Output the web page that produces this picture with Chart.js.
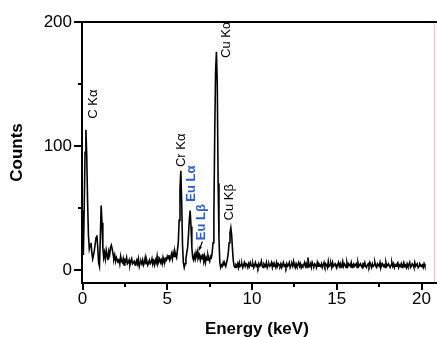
<!DOCTYPE html>
<html>
<head>
<meta charset="utf-8">
<title>EDX spectrum</title>
<script src="https://cdn.jsdelivr.net/npm/chart.js@4/dist/chart.umd.min.js"></script>
<style>
  html, body { margin: 0; padding: 0; background: #fff; }
  #wrap { width: 437px; height: 337px; }
</style>
</head>
<body>
<div id="wrap"><canvas id="mycanvas"></canvas></div>
<script>
// ---- data ----
// spectrum channels: first channel energy and channel width, keV
var channelStart = 0.0;
var channelWidth = 0.05;

// counts per channel, one row = 1 keV (20 channels)
var counts = [
  48,                                                                                   // 0.00
  12, 50, 95, 113, 92, 55, 28, 17, 20, 22, 14, 9, 12, 16, 21, 26, 28, 18, 6, 3,        // 0.05-1.00
  25, 52, 38, 18, 10, 14, 9, 16, 12, 8, 15, 12, 18, 20, 17, 13, 9, 12, 7, 10,          // 1.05-2.00
  8, 6, 9, 5, 11, 7, 6, 9, 4, 8, 7, 10, 5, 6, 8, 4, 7, 9, 5, 6,                        // 2.05-3.00
  7, 4, 6, 8, 5, 9, 3, 6, 7, 5, 8, 4, 6, 10, 5, 7, 4, 6, 8, 5,                         // 3.05-4.00
  6, 9, 5, 7, 4, 8, 6, 11, 5, 7, 9, 6, 8, 5, 10, 7, 6, 9, 8, 11,                       // 4.05-5.00
  9, 12, 8, 10, 13, 9, 14, 11, 15, 12, 10, 16, 22, 40, 65, 80, 55, 20, 6, 2,           // 5.05-6.00
  5, 9, 14, 18, 28, 40, 48, 35, 18, 10, 8, 12, 9, 14, 11, 15, 10, 12, 8, 11,           // 6.05-7.00
  9, 13, 7, 11, 6, 10, 8, 12, 9, 7, 11, 10, 14, 22, 45, 110, 160, 176, 150, 70,        // 7.05-8.00
  25, 6, 2, 4, 3, 6, 4, 5, 3, 6, 9, 14, 22, 30, 34, 28, 16, 7, 3, 2,                   // 8.05-9.00
  4, 3, 5, 2, 6, 3, 4, 5, 2, 4, 6, 3, 5, 4, 2, 5, 3, 6, 4, 3,                          // 9.05-10.00
  5, 2, 4, 6, 3, 4, 2, 5, 3, 4, 7, 3, 2, 5, 4, 3, 6, 2, 4, 5,
  3, 4, 6, 2, 5, 3, 4, 2, 6, 3, 5, 4, 3, 5, 2, 4, 6, 3, 4, 2,
  5, 3, 4, 6, 2, 4, 5, 3, 7, 4, 2, 5, 3, 4, 6, 3, 5, 2, 4, 3,
  4, 6, 3, 5, 2, 10, 4, 3, 5, 2, 6, 4, 3, 5, 4, 2, 6, 3, 5, 4,
  3, 5, 2, 4, 6, 3, 5, 4, 2, 7, 3, 4, 5, 2, 6, 3, 4, 5, 3, 2,
  4, 6, 3, 5, 2, 4, 7, 3, 5, 4, 2, 6, 3, 5, 4, 3, 6, 2, 4, 5,
  3, 4, 5, 2, 6, 3, 4, 5, 3, 2, 5, 4, 6, 3, 2, 4, 5, 3, 6, 4,
  2, 5, 3, 4, 6, 3, 2, 5, 4, 3, 6, 2, 4, 5, 3, 4, 2, 6, 3, 4,
  5, 3, 2, 4, 6, 3, 5, 2, 4, 3, 5, 6, 2, 4, 3, 5, 2, 4, 6, 3,
  4, 2, 5, 3, 4, 6, 2, 3, 5, 4, 2, 6, 3, 4, 5, 2, 3, 5, 4, 3,                          // 19.05-20.00
  4, 2, 5, 3                                                                            // 20.05-20.20
];

var xTicks = [0, 2.5, 5, 7.5, 10, 12.5, 15, 17.5, 20];
var xLabels = [0, 5, 10, 15, 20];
var yTicks = [0, 50, 100, 150, 200];
var yLabels = [0, 100, 200];

// peak labels: text, energy (keV) and counts at the bottom end of the rotated text
var peakNames = ["C K\u03b1", "Cr K\u03b1", "Eu L\u03b1", "Eu L\u03b2", "Cu K\u03b1", "Cu K\u03b2"];
var peakX     = [0.64, 5.83, 6.41, 7.03, 8.48, 8.69];
var peakY     = [122, 83, 55, 24, 171, 40];
var peakBlue  = [false, false, true, true, false, false];

// ---- build points ----
var points = [];
for (var i = 0; i < counts.length; i++) {
  points.push({ x: +(channelStart + i * channelWidth).toFixed(2), y: counts[i] });
}

var FONT = "'Liberation Sans', Arial, Helvetica, sans-serif";

var decorations = {
  id: 'decorations',
  afterDraw: function (chart) {
    var ctx = chart.ctx, a = chart.chartArea;
    var sx = chart.scales.x, sy = chart.scales.y;
    ctx.save();
    // frame: faint right edge, then black top / left / bottom lines
    ctx.strokeStyle = '#e8c8c0';
    ctx.lineWidth = 1;
    ctx.beginPath();
    ctx.moveTo(434.5, a.top);
    ctx.lineTo(434.5, a.bottom);
    ctx.stroke();
    ctx.strokeStyle = '#000';
    ctx.lineWidth = 2;
    ctx.beginPath();
    ctx.moveTo(437, a.top);
    ctx.lineTo(a.left, a.top);
    ctx.lineTo(a.left, a.bottom);
    ctx.lineTo(437, a.bottom);
    ctx.stroke();

    // outward ticks
    xTicks.forEach(function (v) {
      var px = Math.round(sx.getPixelForValue(v));
      var len = xLabels.indexOf(v) >= 0 ? 7 : 4;
      ctx.beginPath();
      ctx.moveTo(px, a.bottom);
      ctx.lineTo(px, a.bottom + len);
      ctx.stroke();
    });
    yTicks.forEach(function (v) {
      var py = Math.round(sy.getPixelForValue(v));
      var len = yLabels.indexOf(v) >= 0 ? 8 : 4;
      ctx.beginPath();
      ctx.moveTo(a.left, py);
      ctx.lineTo(a.left - len, py);
      ctx.stroke();
    });

    // peak labels, rotated
    for (var k = 0; k < peakNames.length; k++) {
      var px = sx.getPixelForValue(peakX[k]);
      var py = sy.getPixelForValue(peakY[k]);
      ctx.save();
      ctx.translate(px, py);
      ctx.rotate(-Math.PI / 2);
      ctx.textAlign = 'left';
      ctx.textBaseline = 'middle';
      ctx.fillStyle = peakBlue[k] ? '#2f5fc4' : '#000';
      ctx.font = (peakBlue[k] ? 'bold ' : '') + '13px ' + FONT;
      ctx.fillText(peakNames[k], 0, 0);
      ctx.restore();
    }

    // small arrow under Eu L beta
    var x1 = sx.getPixelForValue(7.07), y1 = sy.getPixelForValue(23);
    var x2 = sx.getPixelForValue(6.88), y2 = sy.getPixelForValue(16);
    ctx.lineWidth = 1.2;
    ctx.beginPath();
    ctx.moveTo(x1, y1);
    ctx.lineTo(x2, y2);
    ctx.stroke();
    var ang = Math.atan2(y2 - y1, x2 - x1);
    ctx.beginPath();
    ctx.moveTo(x2, y2);
    ctx.lineTo(x2 - 4 * Math.cos(ang - 0.45), y2 - 4 * Math.sin(ang - 0.45));
    ctx.lineTo(x2 - 4 * Math.cos(ang + 0.45), y2 - 4 * Math.sin(ang + 0.45));
    ctx.closePath();
    ctx.fillStyle = '#000';
    ctx.fill();
    ctx.restore();
  }
};

new Chart(document.getElementById('mycanvas'), {
  type: 'line',
  data: {
    datasets: [{
      data: points,
      borderColor: '#000',
      borderWidth: 1.6,
      pointRadius: 0,
      tension: 0,
      fill: false
    }]
  },
  options: {
    responsive: true,
    maintainAspectRatio: false,
    animation: false,
    events: [],
    layout: { padding: { top: 22, right: 0, left: 0, bottom: 0 } },
    plugins: { legend: { display: false }, tooltip: { enabled: false } },
    scales: {
      x: {
        type: 'linear',
        min: -0.03,
        max: 20.6,
        afterFit: function (s) { s.height = 54; },
        afterBuildTicks: function (s) { s.ticks = xTicks.map(function (v) { return { value: v }; }); },
        grid: { display: false, drawTicks: false },
        border: { display: false },
        ticks: {
          autoSkip: false,
          maxRotation: 0,
          padding: 6,
          color: '#000',
          font: { family: FONT, size: 17 },
          callback: function (v) { return xLabels.indexOf(v) >= 0 ? String(v) : ''; }
        },
        title: {
          display: true,
          text: 'Energy (keV)',
          color: '#000',
          font: { family: FONT, size: 17, weight: 'bold', lineHeight: 0.9 },
          padding: { top: 0, bottom: 0 }
        }
      },
      y: {
        type: 'linear',
        min: -10.5,
        max: 200,
        afterFit: function (s) { s.width = 82; },
        afterBuildTicks: function (s) { s.ticks = yTicks.map(function (v) { return { value: v }; }); },
        grid: { display: false, drawTicks: false },
        border: { display: false },
        ticks: {
          autoSkip: false,
          padding: 10,
          color: '#000',
          font: { family: FONT, size: 17 },
          callback: function (v) { return yLabels.indexOf(v) >= 0 ? String(v) : ''; }
        },
        title: {
          display: true,
          text: 'Counts',
          color: '#000',
          font: { family: FONT, size: 17, weight: 'bold' },
          padding: { top: 7, bottom: 0 }
        }
      }
    }
  },
  plugins: [decorations]
});
</script>
</body>
</html>
